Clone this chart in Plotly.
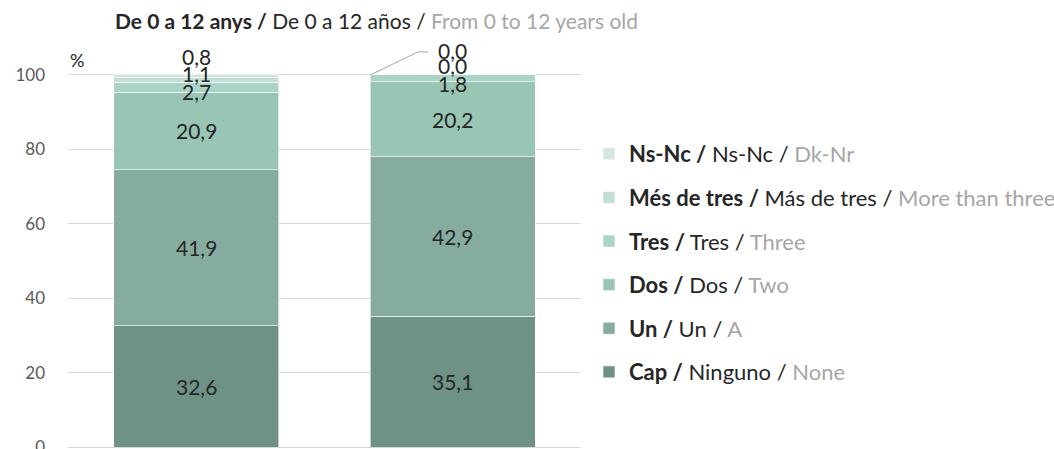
import plotly.graph_objects as go

categories = ["A", "B"]
cap = [32.6, 35.1]
un = [41.9, 42.9]
dos = [20.9, 20.2]
tres = [2.7, 1.8]
mes_de_tres = [1.1, 0.0]
nsnc = [0.8, 0.0]

series_values = [cap, un, dos, tres, mes_de_tres, nsnc]
series_names = [
    "<b>Cap /</b> Ninguno / <span style='color:#a6a6a6'>None</span>",
    "<b>Un /</b> Un / <span style='color:#a6a6a6'>A</span>",
    "<b>Dos /</b> Dos / <span style='color:#a6a6a6'>Two</span>",
    "<b>Tres /</b> Tres / <span style='color:#a6a6a6'>Three</span>",
    "<b>Més de tres /</b> Más de tres / <span style='color:#a6a6a6'>More than three</span>",
    "<b>Ns-Nc /</b> Ns-Nc / <span style='color:#a6a6a6'>Dk-Nr</span>",
]
colors = ["#6f9286", "#86ac9f", "#98c5b4", "#acd4c6", "#c3dfd5", "#d5e6df"]
# pixel shifts for label placement (small segments are nudged)
label_shift = [
    [0, 0], [0, 0], [0, 0], [-4, -5], [7, 9], [20, 24],
]

FONT = "Lato"
FS = 21
LFS = 22
BARW = 0.643

fig = go.Figure()
n = len(series_values)
for i, (vals, name, col) in enumerate(zip(series_values, series_names, colors)):
    fig.add_trace(go.Bar(
        x=[0, 1], y=vals, name=name, width=BARW,
        marker=dict(color=col, line=dict(color="rgba(255,255,255,0.6)", width=1)),
        legendgroup=f"g{i}", legendrank=n - i, hoverinfo="skip",
    ))

# value labels
cum = [0.0, 0.0]
for i, vals in enumerate(series_values):
    for j, v in enumerate(vals):
        center = cum[j] + v / 2
        fig.add_annotation(
            x=j, y=center, xref="x", yref="y",
            text=f"{v:.1f}".replace(".", ","), showarrow=False,
            yshift=label_shift[i][j],
            font=dict(family=FONT, size=FS, color="#262626"),
        )
        cum[j] += v

# leader line for the second bar's tiny segments
fig.add_shape(
    type="path", xref="x", yref="y",
    path=f"M {1 - BARW / 2},100 L 0.8645,106.2 L 0.9035,106.2",
    line=dict(color="#a6a6a6", width=1),
)

fig.add_annotation(
    x=0.6004, y=1.06, xref="paper", yref="paper", showarrow=False,
    xanchor="center", yanchor="middle",
    text="<b>De 0 a 12 anys /</b> De 0 a 12 años / <span style='color:#a6a6a6'>From 0 to 12 years old</span>",
    font=dict(family=FONT, size=FS, color="#262626"),
)
fig.add_annotation(
    x=0.0175, y=0.963, xref="paper", yref="paper", showarrow=False,
    xanchor="center", yanchor="middle", text="%",
    font=dict(family=FONT, size=18, color="#262626"),
)

fig.update_layout(
    width=1054, height=449,
    barmode="stack",
    plot_bgcolor="white", paper_bgcolor="white",
    margin=dict(l=68, r=473, t=45, b=2, autoexpand=False),
    showlegend=True,
    legend=dict(
        x=1.0156, y=0.781, xanchor="left", yanchor="top",
        traceorder="grouped", tracegroupgap=12,
        font=dict(family=FONT, size=LFS, color="#262626"),
        bgcolor="rgba(0,0,0,0)",
    ),
    xaxis=dict(range=[-0.5, 1.5], showticklabels=False, showgrid=False,
               zeroline=False, showline=False, fixedrange=True, automargin=False),
    yaxis=dict(range=[0, 108.06], tickvals=[0, 20, 40, 60, 80, 100],
               showgrid=True, gridcolor="#d9d9d9", gridwidth=1,
               zeroline=True, zerolinecolor="#d9d9d9", zerolinewidth=1,
               ticklabelstandoff=22, automargin=False, ticklabeloverflow="allow",
               tickfont=dict(family=FONT, size=17, color="#595959")),
)

fig.write_html("out.html", config={"displayModeBar": False},
               post_script="document.body.style.margin='0';")
